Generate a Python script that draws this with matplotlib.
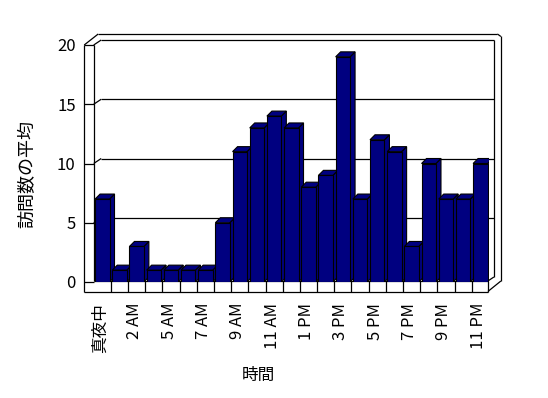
# 3D-style column chart: average visits per hour

import matplotlib.pyplot as plt
import matplotlib.transforms as mtransforms
from matplotlib.patches import Polygon
import numpy as np

plt.rcParams['font.family'] = ['Noto Sans CJK JP', 'DejaVu Sans']

visits = [7, 1, 3, 1, 1, 1, 1, 5, 11, 13, 14, 13, 8, 9, 19, 7, 12, 11, 3, 10, 7, 7, 10]
tick_labels = ['真夜中', '2 AM', '5 AM', '7 AM', '9 AM', '11 AM',
               '1 PM', '3 PM', '5 PM', '7 PM', '9 PM', '11 PM']
y_ticks = [0, 5, 10, 15, 20]

W, H = 548, 398
fig = plt.figure(figsize=(W / 100, H / 100), dpi=100)
# front plane of the plot box, in pixels
left, right, top, bottom = 93.7, 488.9, 45, 282
ax = fig.add_axes([left / W, 1 - bottom / H, (right - left) / W, (bottom - top) / H])

n = len(visits)
x = np.arange(n)
xl, xr = -0.5, n - 0.5
ax.set_xlim(xl, xr)
ax.set_ylim(0, 20)
SX = (right - left) / n      # pixels per x unit
SY = (bottom - top) / 20     # pixels per y unit


def P(xv, yv, dx=0, dy=0):
    # data point shifted by dx, dy pixels (dy positive = down)
    return xv + dx / SX, yv - dy / SY


def seg(a, b, lw=0.9):
    ax.plot([a[0], b[0]], [a[1], b[1]], color='black', lw=lw,
            clip_on=False, zorder=1, solid_capstyle='butt')


# outer box
seg(P(xl, 20, -9.5, 0), P(xl, 0, -9.5, 9.5))
seg(P(xl, 0, -9.5, 9.5), P(xr, 0, -1, 9.5))
seg(P(xr, 0, -1, 9.5), P(xr, 0, 12, -1))
seg(P(xr, 0, 12, -1), P(xr, 20, 12, -8.5))
seg(P(xr, 20, 12, -8.5), P(xr, 20, 8.5, -11))
seg(P(xr, 20, 8.5, -11), P(xl, 20, 4.5, -11))
seg(P(xl, 20, 4.5, -11), P(xl, 20, -9.5, 0))
# inner wall / floor edges
seg(P(xl, 20, -9.5, 0), P(xl, 20))
seg(P(xl, 20), P(xl, 0, 0, -1))
seg(P(xl, 20), P(xl, 20, 7.5, -5))
seg(P(xl, 20, 7.5, -5), P(xr, 20, 5, -5))
seg(P(xr, 20, 5, -5), P(xr, 0, 5, -5))
seg(P(xr, 0, -1, -1), P(xr, 0, 5, -5))
seg(P(xl, 0, 0, -1), P(xr, 0, -1, -1))
seg(P(xr, 0, -1, -1), P(xr, 0, -1, 9.5))
for k in range(1, n):
    seg(P(k - 0.5, 0, 0, -1), P(k - 0.5, 0, 0, 9.5))

# gridlines on back wall and left wall, ticks on wall front
for v in y_ticks[:-1]:
    seg(P(xl, v, -9.5, 0), P(xl, v))
    if v > 0:
        seg(P(xl, v), P(xl, v, 7.5, -5))
        seg(P(xl, v, 7.5, -5), P(xr, v, 5, -5))

# bars with depth
navy = '#000080'
w = 0.84
ddx, ddy = 5 / SX, 5 / SY
bars = ax.bar(x, visits, width=w, color=navy, edgecolor='black', linewidth=0.8)
for k, (xi, v) in enumerate(zip(x, visits)):
    z = 2 + k * 0.01
    xa, xb = xi - w / 2, xi + w / 2
    side = Polygon([(xb, 0), (xb, v), (xb + ddx, v + ddy), (xb + ddx, ddy)],
                   closed=True, facecolor=navy, edgecolor='black', lw=0.8, zorder=z)
    topf = Polygon([(xa, v), (xb, v), (xb + ddx, v + ddy), (xa + ddx, v + ddy)],
                   closed=True, facecolor=navy, edgecolor='black', lw=0.8, zorder=z)
    ax.add_patch(side)
    ax.add_patch(topf)
    bars[k].set_zorder(z + 0.005)

for s in ax.spines.values():
    s.set_visible(False)

ax.set_yticks(y_ticks)
ax.set_xticks(x[::2])
ax.set_xticklabels(tick_labels, rotation=90, va='top', ha='center')
ax.tick_params(axis='both', length=0, labelsize=12)
ax.tick_params(axis='y', pad=13)
ax.tick_params(axis='x', pad=15)
shift = mtransforms.ScaledTranslation(-2 / 100, 0, fig.dpi_scale_trans)
for lab in ax.get_xticklabels():
    lab.set_transform(lab.get_transform() + shift)

ax.set_xlabel('時間', fontsize=12, va='center')
ax.xaxis.set_label_coords((258 - left) / (right - left), (bottom - 375) / (bottom - top))
ax.set_ylabel('訪問数の平均', fontsize=13, va='center')
ax.yaxis.set_label_coords((27 - left) / (right - left), (bottom - 174) / (bottom - top))

fig.savefig('out.png', dpi=100)
